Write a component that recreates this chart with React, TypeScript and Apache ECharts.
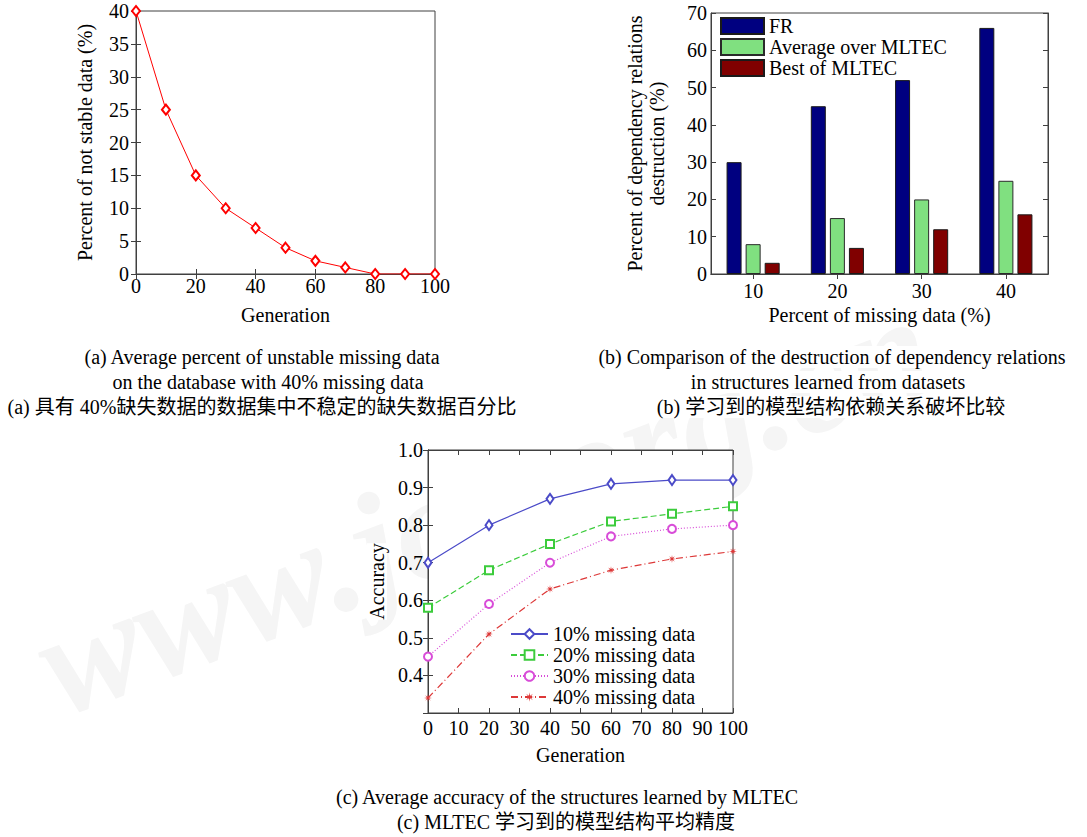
import React, { useEffect, useRef } from 'react';
import * as echarts from 'echarts';

// ---- Data (a) ----
const genA = [0, 10, 20, 30, 40, 50, 60, 70, 80, 90, 100];
const unstableA = [40, 25, 15, 10, 7, 4, 2, 1, 0, 0, 0];

// ---- Data (b) ----
const missingCats = ['10', '20', '30', '40'];
const frValues = [30, 45, 52, 66];
const avgValues = [8, 15, 20, 25];
const bestValues = [3, 7, 12, 16];

// ---- Data (c) ----
const genC = [0, 20, 40, 60, 80, 100];
const acc10 = [0.7, 0.8, 0.87, 0.91, 0.92, 0.92];
const acc20 = [0.58, 0.68, 0.75, 0.81, 0.83, 0.85];
const acc30 = [0.45, 0.59, 0.7, 0.77, 0.79, 0.8];
const acc40 = [0.34, 0.51, 0.63, 0.68, 0.71, 0.73];

const seriesNamesC = ['10% missing data', '20% missing data', '30% missing data', '40% missing data'];
const barNames = ['FR', 'Average over MLTEC', 'Best of MLTEC'];

const SERIF = "'Liberation Serif', 'Times New Roman', serif";
const MIXED = "'Liberation Serif', 'Noto Sans CJK SC', serif";
const FRAME = '#404040';
const FS = 20;

const STAR = 'path://M5,0L5.6,3.6L8.5,1.5L6.4,4.4L10,5L6.4,5.6L8.5,8.5L5.6,6.4L5,10L4.4,6.4L1.5,8.5L3.6,5.6L0,5L3.6,4.4L1.5,1.5L4.4,3.6Z';

const labelStyle = { fontSize: FS, fontFamily: SERIF, color: '#000' };
const nameStyle = { fontSize: FS, fontFamily: SERIF, color: '#000', backgroundColor: '#fff' };

function mainValueAxis(gridIndex: number, min: number, max: number, interval: number, extra: any = {}) {
  return {
    type: 'value',
    gridIndex,
    min,
    max,
    interval,
    axisLine: { show: true, lineStyle: { color: FRAME, width: 1 } },
    axisTick: { show: true, inside: true, length: 5, lineStyle: { color: FRAME } },
    splitLine: { show: false },
    axisLabel: { ...labelStyle, margin: 5 },
    nameLocation: 'middle',
    nameTextStyle: nameStyle,
    ...extra,
  };
}

function mirrorValueAxis(gridIndex: number, position: string, min: number, max: number, interval: number) {
  return {
    type: 'value',
    gridIndex,
    position,
    min,
    max,
    interval,
    axisLine: { show: true, lineStyle: { color: FRAME, width: 1 } },
    axisTick: { show: true, inside: true, length: 5, lineStyle: { color: FRAME } },
    splitLine: { show: false },
    axisLabel: { show: false },
  };
}

function captionText(text: string, x: number, y: number) {
  return {
    type: 'text',
    x,
    y,
    z: 10,
    style: {
      text,
      fontSize: FS,
      fontFamily: MIXED,
      fill: '#000',
      align: 'center',
      verticalAlign: 'middle',
      backgroundColor: '#fff',
      padding: [1, 4],
    },
  };
}

export default function App() {
  const ref = useRef<HTMLDivElement>(null);

  useEffect(() => {
    if (!ref.current) return;
    const chart = echarts.init(ref.current, null, { renderer: 'svg' });

    const option: any = {
      animation: false,
      backgroundColor: '#fff',
      textStyle: { fontFamily: SERIF },
      grid: [
        { left: 136, top: 11, width: 299, height: 263, show: true, borderColor: FRAME, borderWidth: 1, backgroundColor: '#fff' },
        { left: 711, top: 13, width: 337, height: 261, show: true, borderColor: FRAME, borderWidth: 1, backgroundColor: '#fff' },
        { left: 428, top: 450, width: 305, height: 263, show: true, borderColor: FRAME, borderWidth: 1, backgroundColor: '#fff' },
      ],
      xAxis: [
        mainValueAxis(0, 0, 100, 20, { position: 'bottom', name: 'Generation', nameGap: 31, axisLabel: { ...labelStyle, margin: 2 } }),
        mirrorValueAxis(0, 'top', 0, 100, 20),
        {
          type: 'category',
          gridIndex: 1,
          position: 'bottom',
          data: missingCats,
          axisLine: { show: true, lineStyle: { color: FRAME, width: 1 } },
          axisTick: { show: true, inside: true, alignWithLabel: true, length: 5, lineStyle: { color: FRAME } },
          axisLabel: { ...labelStyle, margin: 7 },
          splitLine: { show: false },
          name: 'Percent of missing data (%)',
          nameLocation: 'middle',
          nameGap: 31,
          nameTextStyle: nameStyle,
        },
        {
          type: 'category',
          gridIndex: 1,
          position: 'top',
          data: missingCats,
          axisLine: { show: true, lineStyle: { color: FRAME, width: 1 } },
          axisTick: { show: true, inside: true, alignWithLabel: true, length: 5, lineStyle: { color: FRAME } },
          axisLabel: { show: false },
          splitLine: { show: false },
        },
        mainValueAxis(2, 0, 100, 10, { position: 'bottom', name: 'Generation', nameGap: 32 }),
        mirrorValueAxis(2, 'top', 0, 100, 10),
      ],
      yAxis: [
        mainValueAxis(0, 0, 40, 5, { position: 'left', name: 'Percent of not stable data (%)', nameGap: 41, axisLabel: { ...labelStyle, margin: 7 } }),
        mirrorValueAxis(0, 'right', 0, 40, 5),
        mainValueAxis(1, 0, 70, 10, {
          position: 'left',
          name: 'Percent of dependency relations\ndestruction (%)',
          nameGap: 43,
          nameTextStyle: { ...nameStyle, lineHeight: 22 },
          axisLabel: { ...labelStyle, margin: 4 },
        }),
        mirrorValueAxis(1, 'right', 0, 70, 10),
        mainValueAxis(2, 0.3, 1.0, 0.1, {
          position: 'left',
          name: 'Accuracy',
          nameGap: 41,
          axisLabel: {
            ...labelStyle,
            margin: 5,
            showMinLabel: false,
            formatter: (v: number) => (Math.abs(v - 0.3) < 1e-9 ? '' : v.toFixed(1)),
          },
        }),
        mirrorValueAxis(2, 'right', 0.3, 1.0, 0.1),
      ],
      legend: [
        {
          data: barNames,
          orient: 'vertical',
          left: 715,
          top: 11,
          itemWidth: 43,
          itemHeight: 16,
          itemGap: 1,
          icon: 'rect',
          selectedMode: false,
          textStyle: { ...labelStyle, lineHeight: 20 },
        },
        {
          data: seriesNamesC,
          orient: 'vertical',
          left: 505,
          top: 619,
          itemWidth: 37,
          itemHeight: 12,
          itemGap: 1,
          selectedMode: false,
          textStyle: { ...labelStyle, lineHeight: 20 },
        },
      ],
      series: [
        {
          type: 'line',
          name: 'unstable',
          xAxisIndex: 0,
          yAxisIndex: 0,
          data: genA.map((g, i) => [g, unstableA[i]]),
          symbol: 'emptyDiamond',
          symbolSize: [8, 10],
          lineStyle: { color: '#ff0000', width: 1 },
          itemStyle: { color: '#ff0000' },
        },
        {
          type: 'bar',
          name: barNames[0],
          xAxisIndex: 2,
          yAxisIndex: 2,
          data: frValues,
          barWidth: 15,
          barGap: '27%',
          itemStyle: { color: '#000080', borderColor: '#1a1a1a', borderWidth: 1 },
        },
        {
          type: 'bar',
          name: barNames[1],
          xAxisIndex: 2,
          yAxisIndex: 2,
          data: avgValues,
          barWidth: 15,
          barGap: '27%',
          itemStyle: { color: '#80e080', borderColor: '#2a2a2a', borderWidth: 1 },
        },
        {
          type: 'bar',
          name: barNames[2],
          xAxisIndex: 2,
          yAxisIndex: 2,
          data: bestValues,
          barWidth: 15,
          barGap: '27%',
          itemStyle: { color: '#800000', borderColor: '#1a1a1a', borderWidth: 1 },
        },
        {
          type: 'line',
          name: seriesNamesC[0],
          xAxisIndex: 4,
          yAxisIndex: 4,
          data: genC.map((g, i) => [g, acc10[i]]),
          symbol: 'emptyDiamond',
          symbolSize: [7, 10],
          lineStyle: { color: '#4b4bc8', width: 1.2, type: 'solid' },
          itemStyle: { color: '#4b4bc8' },
        },
        {
          type: 'line',
          name: seriesNamesC[1],
          xAxisIndex: 4,
          yAxisIndex: 4,
          data: genC.map((g, i) => [g, acc20[i]]),
          symbol: 'emptyRect',
          symbolSize: 8,
          lineStyle: { color: '#3ccc3c', width: 1.2, type: [6, 3] },
          itemStyle: { color: '#3ccc3c' },
        },
        {
          type: 'line',
          name: seriesNamesC[2],
          xAxisIndex: 4,
          yAxisIndex: 4,
          data: genC.map((g, i) => [g, acc30[i]]),
          symbol: 'emptyCircle',
          symbolSize: 8,
          lineStyle: { color: '#d84cd8', width: 1.2, type: [1, 2] },
          itemStyle: { color: '#d84cd8' },
        },
        {
          type: 'line',
          name: seriesNamesC[3],
          xAxisIndex: 4,
          yAxisIndex: 4,
          data: genC.map((g, i) => [g, acc40[i]]),
          symbol: STAR,
          symbolSize: 8,
          lineStyle: { color: '#dd3838', width: 1.2, type: [7, 3, 1, 3] },
          itemStyle: { color: '#dd3838' },
        },
      ],
      graphic: [
        {
          type: 'text',
          x: 70,
          y: 740,
          rotation: 0.36,
          z: -100,
          silent: true,
          style: {
            text: 'www.jos.org.cn',
            fontSize: 150,
            fontStyle: 'italic',
            fontWeight: 'bold',
            fontFamily: SERIF,
            fill: '#f5f5f5',
            align: 'left',
            verticalAlign: 'bottom',
          },
        },
        captionText('(a) Average percent of unstable missing data', 262, 357),
        captionText('on the database with 40% missing data', 268, 382),
        captionText('(a) 具有 40%缺失数据的数据集中不稳定的缺失数据百分比', 262, 407),
        captionText('(b) Comparison of the destruction of dependency relations', 832, 357),
        captionText('in structures learned from datasets', 828, 382),
        captionText('(b) 学习到的模型结构依赖关系破坏比较', 831, 407),
        captionText('(c) Average accuracy of the structures learned by MLTEC', 567, 797),
        captionText('(c) MLTEC 学习到的模型结构平均精度', 566, 822),
      ],
    };

    chart.setOption(option);
    return () => {
      chart.dispose();
    };
  }, []);

  return (
    <div
      ref={ref}
      style={{ position: 'absolute', left: 0, top: 0, width: 1087, height: 837, background: '#fff' }}
    />
  );
}
